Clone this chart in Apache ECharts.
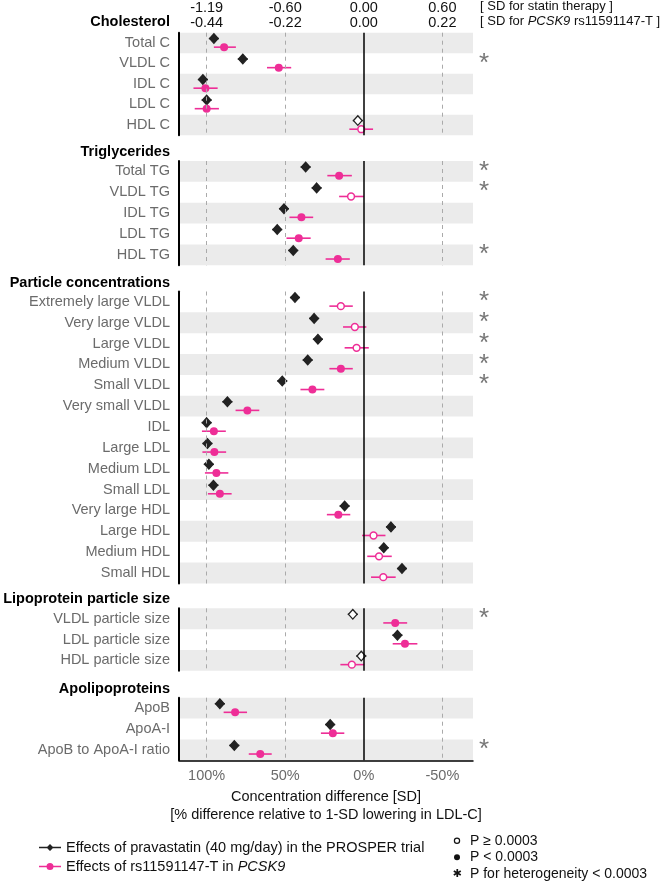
<!DOCTYPE html>
<html>
<head>
<meta charset="utf-8">
<script src="https://cdn.jsdelivr.net/npm/echarts@6/dist/echarts.min.js"></script>
<style>
    html, body { margin: 0; padding: 0; background: #fff; }
    #main { width: 666px; height: 881px; }
</style>
</head>
<body>
<div id="main"></div>
<script>
    // tick positions (% of 1-SD LDL-C lowering) and their labels
    var tickPct = [100, 50, 0, -50];
    var statinSdLabels = ['-1.19', '-0.60', '0.00', '0.60'];
    var pcsk9SdLabels = ['-0.44', '-0.22', '0.00', '0.22'];

    var sectionNames = ['Cholesterol', 'Triglycerides', 'Particle concentrations', 'Lipoprotein particle size', 'Apolipoproteins'];

    var cholRows = ['Total C', 'VLDL C', 'IDL C', 'LDL C', 'HDL C'];
    var tgRows = ['Total TG', 'VLDL TG', 'IDL TG', 'LDL TG', 'HDL TG'];
    var partRows = ['Extremely large VLDL', 'Very large VLDL', 'Large VLDL', 'Medium VLDL', 'Small VLDL', 'Very small VLDL', 'IDL',
        'Large LDL', 'Medium LDL', 'Small LDL', 'Very large HDL', 'Large HDL', 'Medium HDL', 'Small HDL'];
    var sizeRows = ['VLDL particle size', 'LDL particle size', 'HDL particle size'];
    var apoRows = ['ApoB', 'ApoA-I', 'ApoB to ApoA-I ratio'];

    // [upper CI, estimate, lower CI] in % relative to 1-SD LDL-C lowering
    var cholStatin = [[98.6, 95.4, 92.2], [80.2, 77.0, 73.8], [105.6, 102.4, 99.2], [103.2, 100, 96.8], [7.0, 3.8, 0.6]];
    var cholPcsk9 = [[95.4, 88.9, 81.4], [61.6, 54.1, 46.2], [108.4, 100.8, 93.0], [107.6, 100, 92.2], [9.2, 1.6, -5.9]];
    var tgStatin = [[40.2, 37.0, 33.8], [33.2, 30.0, 26.8], [54.0, 50.8, 47.6], [58.3, 55.1, 51.9], [48.1, 44.9, 41.7]];
    var tgPcsk9 = [[23.2, 15.7, 7.6], [15.7, 8.1, 0], [47.3, 39.7, 32.2], [49.2, 41.4, 33.8], [24.3, 16.5, 8.9]];
    var partStatin = [[47.0, 43.8, 40.6], [34.8, 31.6, 28.4], [32.4, 29.2, 26.0], [38.9, 35.7, 32.5], [55.1, 51.9, 48.7],
        [90.0, 86.8, 83.6], [103.2, 100, 96.8], [102.7, 99.5, 96.3], [101.8, 98.6, 95.4], [98.9, 95.7, 92.5],
        [15.4, 12.2, 9.0], [-14.1, -17.3, -20.5], [-9.5, -12.7, -15.9], [-21.1, -24.3, -27.5]];
    var partPcsk9 = [[21.9, 14.6, 7.0], [13.2, 5.7, -1.6], [12.2, 4.6, -3.2], [21.9, 14.6, 7.0], [40.3, 32.7, 25.1],
        [81.6, 74.1, 66.5], [103.0, 95.4, 87.8], [102.7, 95.1, 87.6], [101.1, 93.8, 86.2], [99.2, 91.6, 84.1],
        [23.5, 16.2, 8.6], [1.1, -6.2, -13.8], [-2.2, -9.7, -17.8], [-4.6, -12.4, -20.3]];
    var sizeStatin = [[10.2, 7.0, 3.8], [-18.2, -21.4, -24.6], [4.8, 1.6, -1.6]];
    var sizePcsk9 = [[-12.4, -20.0, -27.6], [-18.4, -26.2, -34.1], [14.9, 7.6, -0.3]];
    var apoStatin = [[94.8, 91.6, 88.4], [24.6, 21.4, 18.2], [85.6, 82.4, 79.2]];
    var apoPcsk9 = [[89.2, 81.9, 74.3], [27.3, 19.7, 12.4], [73.2, 65.9, 58.6]];

    // 1 = P < 0.0003 (filled), 0 = P >= 0.0003 (open)
    var cholStatinSig = [1, 1, 1, 1, 0];
    var cholPcsk9Sig = [1, 1, 1, 1, 0];
    var tgStatinSig = [1, 1, 1, 1, 1];
    var tgPcsk9Sig = [1, 0, 1, 1, 1];
    var partStatinSig = [1, 1, 1, 1, 1, 1, 1, 1, 1, 1, 1, 1, 1, 1];
    var partPcsk9Sig = [0, 0, 0, 1, 1, 1, 1, 1, 1, 1, 1, 0, 0, 0];
    var sizeStatinSig = [0, 1, 0];
    var sizePcsk9Sig = [1, 1, 0];
    var apoStatinSig = [1, 1, 1];
    var apoPcsk9Sig = [1, 1, 1];

    // P for heterogeneity < 0.0003
    var cholHet = [0, 1, 0, 0, 0];
    var tgHet = [1, 1, 0, 0, 1];
    var partHet = [1, 1, 1, 1, 1, 0, 0, 0, 0, 0, 0, 0, 0, 0];
    var sizeHet = [1, 0, 0];
    var apoHet = [0, 0, 1];

    var STATIN_NAME = 'Effects of pravastatin (40 mg/day) in the PROSPER trial';
    var PCSK9_NAME = 'Effects of rs11591147-T in PCSK9';

    var rowLabels = [cholRows, tgRows, partRows, sizeRows, apoRows];
    var statinVals = [cholStatin, tgStatin, partStatin, sizeStatin, apoStatin];
    var pcsk9Vals = [cholPcsk9, tgPcsk9, partPcsk9, sizePcsk9, apoPcsk9];
    var statinSig = [cholStatinSig, tgStatinSig, partStatinSig, sizeStatinSig, apoStatinSig];
    var pcsk9Sig = [cholPcsk9Sig, tgPcsk9Sig, partPcsk9Sig, sizePcsk9Sig, apoPcsk9Sig];
    var hetFlags = [cholHet, tgHet, partHet, sizeHet, apoHet];

    // layout
    var FONT = "'Liberation Sans', Arial, sans-serif";
    var PINK = '#ee2e97';
    var DARK = '#222';
    var GRAY_BAND = '#ebebeb';
    var GRID_LEFT = 179, GRID_WIDTH = 294;
    var ROW_H = 20.85;
    var gridTops = [31, 161, 291.5, 608.3, 697.7];
    var X_MIN = -69.5, X_MAX = 117.6;

    var chart = echarts.init(document.getElementById('main'));

    function renderStatin(params, api) {
        var y = api.coord([0, api.value(3)])[1] - 4.4;
        var xa = api.coord([api.value(0), 0])[0];
        var x = api.coord([api.value(1), 0])[0];
        var xb = api.coord([api.value(2), 0])[0];
        var filled = api.value(4) === 1;
        return {
            type: 'group',
            children: [
                {type: 'line', shape: {x1: xa, y1: y, x2: xb, y2: y}, style: {stroke: DARK, lineWidth: 1.5}},
                {type: 'polygon', shape: {points: [[x, y - 4.8], [x + 4.3, y], [x, y + 4.8], [x - 4.3, y]]},
                    style: {fill: filled ? DARK : '#fff', stroke: DARK, lineWidth: 1.3}}
            ]
        };
    }

    function renderPcsk9(params, api) {
        var y = api.coord([0, api.value(3)])[1] + 4.2;
        var xa = api.coord([api.value(0), 0])[0];
        var x = api.coord([api.value(1), 0])[0];
        var xb = api.coord([api.value(2), 0])[0];
        var filled = api.value(4) === 1;
        return {
            type: 'group',
            children: [
                {type: 'line', shape: {x1: xa, y1: y, x2: xb, y2: y}, style: {stroke: PINK, lineWidth: 1.6}},
                {type: 'circle', shape: {cx: x, cy: y, r: filled ? 4 : 3.4},
                    style: {fill: filled ? PINK : '#fff', stroke: PINK, lineWidth: filled ? 0 : 1.5}}
            ]
        };
    }

    var grids = [], xAxes = [], yAxes = [], series = [], graphics = [];

    sectionNames.forEach(function (name, i) {
        var rows = rowLabels[i];
        var n = rows.length;
        var isLast = i === sectionNames.length - 1;
        var top = gridTops[i];
        grids.push({left: GRID_LEFT, width: GRID_WIDTH, top: top, height: n * ROW_H});

        xAxes.push({
            gridIndex: i, type: 'value', min: X_MIN, max: X_MAX, inverse: true,
            axisLine: {show: isLast, onZero: false, lineStyle: {color: '#000', width: 1.5}},
            axisTick: {show: false},
            splitLine: {show: false},
            axisLabel: {
                show: isLast, customValues: tickPct, margin: 8,
                color: '#6b6b6b', fontSize: 14.5, fontFamily: FONT,
                formatter: function (v) { return v + '%'; }
            },
            name: isLast ? 'Concentration difference [SD]\n[% difference relative to 1-SD lowering in LDL-C]' : '',
            nameLocation: 'middle', nameGap: 28,
            nameTextStyle: {color: '#111', fontSize: 14.5, lineHeight: 18, fontFamily: FONT}
        });

        yAxes.push({
            gridIndex: i, type: 'category', data: rows, inverse: true,
            axisLine: {onZero: false, lineStyle: {color: '#000', width: 2}},
            axisTick: {show: false},
            axisLabel: {interval: 0, color: '#6b6b6b', fontSize: 14.5, margin: 9, fontFamily: FONT},
            splitLine: {show: false},
            splitArea: {show: true, interval: 0, areaStyle: {color: n % 2 ? [GRAY_BAND, 'rgba(0,0,0,0)'] : ['rgba(0,0,0,0)', GRAY_BAND]}}
        });
        yAxes.push({
            gridIndex: i, type: 'category', data: rows, inverse: true, position: 'right',
            axisLine: {show: false, onZero: false},
            axisTick: {show: false},
            splitLine: {show: false},
            axisLabel: {
                interval: 0, hideOverlap: false,
                color: '#777', fontSize: 26, margin: 6, fontFamily: FONT, padding: [15, 0, 0, 0],
                formatter: (function (flags) {
                    return function (v, idx) { return flags[idx] ? '*' : ''; };
                })(hetFlags[i])
            }
        });

        // reference lines
        series.push({
            type: 'line', xAxisIndex: i, yAxisIndex: 2 * i, data: [], z: 1, silent: true,
            markLine: {
                silent: true, symbol: ['none', 'none'], label: {show: false}, animation: false,
                data: [
                    {xAxis: 100, lineStyle: {color: '#aaa', type: [4, 4], width: 1}},
                    {xAxis: 50, lineStyle: {color: '#aaa', type: [4, 4], width: 1}},
                    {xAxis: -50, lineStyle: {color: '#aaa', type: [4, 4], width: 1}},
                    {xAxis: 0, lineStyle: {color: '#000', type: 'solid', width: 1.5}}
                ]
            }
        });

        series.push({
            type: 'custom', name: STATIN_NAME, xAxisIndex: i, yAxisIndex: 2 * i,
            itemStyle: {color: DARK}, z: 3, renderItem: renderStatin,
            encode: {x: [0, 1, 2], y: 3},
            data: statinVals[i].map(function (d, j) { return [d[0], d[1], d[2], j, statinSig[i][j]]; })
        });
        series.push({
            type: 'custom', name: PCSK9_NAME, xAxisIndex: i, yAxisIndex: 2 * i,
            itemStyle: {color: PINK}, z: 3, renderItem: renderPcsk9,
            encode: {x: [0, 1, 2], y: 3},
            data: pcsk9Vals[i].map(function (d, j) { return [d[0], d[1], d[2], j, pcsk9Sig[i][j]]; })
        });

        graphics.push({
            type: 'text', right: 666 - 170, top: top - 8.5 - 8,
            style: {text: name, fill: '#000', font: 'bold 14.5px ' + FONT, textVerticalAlign: 'top'}
        });
    });

    // top SD scales on the first panel
    xAxes.push({
        gridIndex: 0, type: 'value', min: X_MIN, max: X_MAX, inverse: true, position: 'top', offset: 15.7,
        axisLine: {show: false, onZero: false}, axisTick: {show: false}, splitLine: {show: false},
        axisLabel: {customValues: tickPct, margin: 2, color: '#111', fontSize: 14.5, fontFamily: FONT,
            formatter: function (v) { return statinSdLabels[tickPct.indexOf(v)]; }}
    });
    xAxes.push({
        gridIndex: 0, type: 'value', min: X_MIN, max: X_MAX, inverse: true, position: 'top', offset: 0,
        axisLine: {show: false, onZero: false}, axisTick: {show: false}, splitLine: {show: false},
        axisLabel: {customValues: tickPct, margin: 2, color: '#111', fontSize: 14.5, fontFamily: FONT,
            formatter: function (v) { return pcsk9SdLabels[tickPct.indexOf(v)]; }}
    });

    graphics.push({
        type: 'text', x: 480, y: 6,
        style: {text: '[ SD for statin therapy ]', fill: '#111', font: '13px ' + FONT, verticalAlign: 'middle'}
    });
    graphics.push({
        type: 'text', x: 480, y: 21.7,
        style: {
            text: '[ SD for {i|PCSK9} rs11591147-T ]', fill: '#111', font: '13px ' + FONT, verticalAlign: 'middle',
            rich: {i: {fontStyle: 'italic', fontSize: 13, fontFamily: FONT, fill: '#111'}}
        }
    });

    // p-value key
    graphics.push({type: 'circle', shape: {cx: 457, cy: 840.7, r: 2.6}, style: {fill: '#fff', stroke: '#111', lineWidth: 1.2}});
    graphics.push({type: 'circle', shape: {cx: 457, cy: 857.3, r: 3}, style: {fill: '#111'}});
    graphics.push({type: 'text', x: 457, y: 874, style: {text: '\u2731', fill: '#111', font: '11px DejaVu Sans', align: 'center', verticalAlign: 'middle'}});
    graphics.push({type: 'text', x: 470, y: 840.7, style: {text: 'P \u2265 0.0003', fill: '#111', font: '14px ' + FONT, verticalAlign: 'middle'}});
    graphics.push({type: 'text', x: 470, y: 857.3, style: {text: 'P < 0.0003', fill: '#111', font: '14px ' + FONT, verticalAlign: 'middle'}});
    graphics.push({type: 'text', x: 470, y: 874, style: {text: 'P for heterogeneity < 0.0003', fill: '#111', font: '14px ' + FONT, verticalAlign: 'middle'}});

    chart.setOption({
        animation: false,
        textStyle: {fontFamily: FONT},
        grid: grids,
        xAxis: xAxes,
        yAxis: yAxes,
        legend: {
            orient: 'vertical', left: 39, top: 840, padding: 0, itemGap: 4,
            itemWidth: 22, itemHeight: 7, selectedMode: false,
            textStyle: {color: '#111', fontSize: 14.5, fontFamily: FONT,
                rich: {i: {fontStyle: 'italic', fontSize: 14.5, fontFamily: FONT, color: '#111'}}},
            formatter: function (name) { return name.replace('PCSK9', '{i|PCSK9}'); },
            data: [
                {name: STATIN_NAME, icon: 'path://M0,2.8L22,2.8L22,4.2L0,4.2Z M11,0L14.5,3.5L11,7L7.5,3.5Z'},
                {name: PCSK9_NAME, icon: 'path://M0,2.8L22,2.8L22,4.2L0,4.2Z M7.5,3.5A3.5,3.5,0,1,1,14.5,3.5A3.5,3.5,0,1,1,7.5,3.5Z'}
            ]
        },
        graphic: graphics,
        series: series
    });
</script>
</body>
</html>
